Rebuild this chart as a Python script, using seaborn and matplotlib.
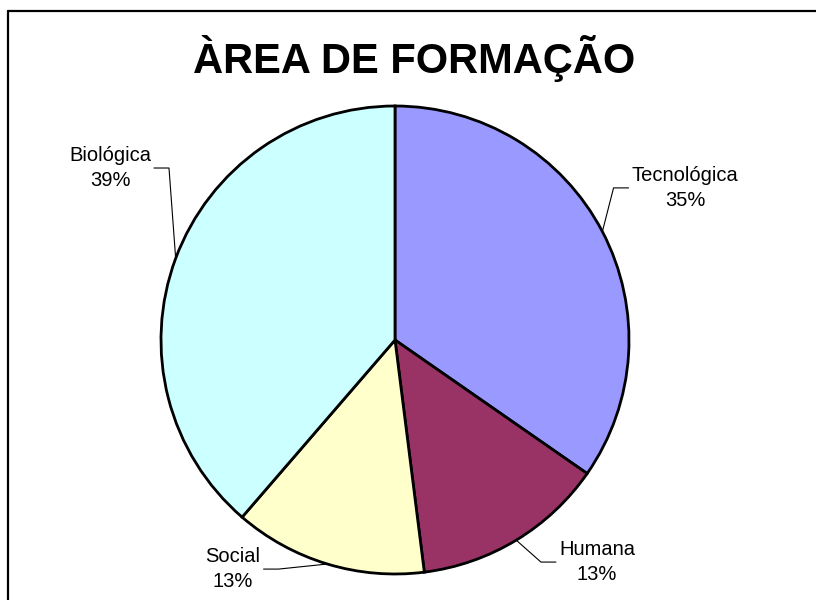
import numpy as np
import matplotlib
matplotlib.use('Agg')
import matplotlib.pyplot as plt
import seaborn as sns
from matplotlib.lines import Line2D

# data
areas = ['Tecnológica', 'Humana', 'Social', 'Biológica']
counts = [26, 10, 10, 29]
colors = ['#9999FF', '#993366', '#FFFFCC', '#CCFFFF']

# where the data labels sit (pie radius = 1, centre = 0,0)
label_xy = [(1.239, 0.650), (0.863, -0.949), (-0.692, -0.979), (-1.218, 0.735)]

sns.set_style('white')
plt.rcParams['font.family'] = ['Liberation Sans', 'DejaVu Sans']
plt.rcParams['text.color'] = 'black'

fig = plt.figure(figsize=(8.16, 6), dpi=100)
ax = fig.add_axes([0, 0, 1, 1])

R = 234.0
cx, cy = 395.0, 340.0
wedges, _ = ax.pie(counts, colors=colors, startangle=90, counterclock=False,
                   radius=1, center=(0, 0), frame=False,
                   wedgeprops=dict(edgecolor='black', linewidth=2))
ax.set_xlim(-cx / R, (816 - cx) / R)
ax.set_ylim(-(600 - cy) / R, cy / R)
ax.set_aspect('equal')
ax.axis('off')

total = float(sum(counts))
fig.canvas.draw()
renderer = fig.canvas.get_renderer()
inv = ax.transData.inverted()
for w, name, n, (lx, ly) in zip(wedges, areas, counts, label_xy):
    pct = 100 * n / total
    t = ax.text(lx, ly, '%s\n%.0f%%' % (name, pct), ha='center', va='center',
                fontsize=14.5, linespacing=1.35, color='black')
    mid = np.deg2rad((w.theta1 + w.theta2) / 2)
    ex, ey = np.cos(mid), np.sin(mid)
    bb = t.get_window_extent(renderer)
    if lx > 0:
        side = inv.transform((bb.x0 - 3, 0))[0]
        knee = side - 15 / R
    else:
        side = inv.transform((bb.x1 + 3, 0))[0]
        knee = side + 15 / R
    ax.plot([ex, knee, side], [ey, ly, ly], color='black', lw=0.8)

fig.text(414 / 816, 1 - 58 / 600, 'ÀREA DE FORMAÇÃO', ha='center', va='center',
         fontsize=30, fontweight='bold', color='black',
         fontstretch='condensed')

# chart frame (clipped on right and bottom)
fx, fy = 8 / 816, 1 - 11 / 600
fig.add_artist(Line2D([fx, fx], [0, fy], color='black', lw=1.6))
fig.add_artist(Line2D([fx, 1], [fy, fy], color='black', lw=1.6))

fig.savefig('out.png', dpi=100)
